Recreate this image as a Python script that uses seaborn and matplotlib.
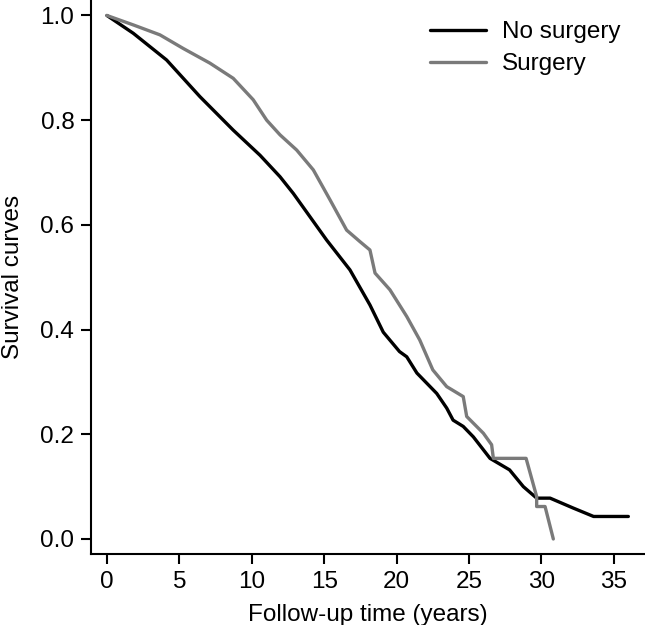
import matplotlib
matplotlib.use("Agg")
import matplotlib.pyplot as plt
import seaborn as sns
import pandas as pd

# Data
nosurg_time = [0.0, 1.82, 4.12, 6.42, 8.72, 10.57, 11.95, 12.87, 15.17, 16.78, 18.16,
               19.08, 20.2, 20.7, 21.4, 22.77, 23.46, 23.9, 24.6, 25.3, 26.45, 27.8,
               28.75, 29.67, 30.6, 32.2, 33.6, 36.0]
nosurg_surv = [1.0, 0.966, 0.915, 0.845, 0.781, 0.733, 0.692, 0.660, 0.571, 0.514, 0.447,
               0.395, 0.358, 0.348, 0.317, 0.278, 0.250, 0.227, 0.215, 0.195, 0.154, 0.132,
               0.100, 0.078, 0.078, 0.059, 0.043, 0.043]

surg_time = [0.0, 1.82, 3.66, 5.27, 7.11, 8.72, 10.1, 11.03, 11.95, 13.1, 14.25, 15.4,
             16.55, 17.47, 18.16, 18.51, 19.54, 20.7, 21.6, 22.5, 23.46, 24.6, 24.84,
             25.99, 26.56, 26.68, 28.94, 29.67, 29.67, 30.25, 30.82]
surg_surv = [1.0, 0.982, 0.963, 0.937, 0.909, 0.880, 0.839, 0.800, 0.772, 0.743, 0.705, 0.648,
             0.590, 0.568, 0.552, 0.508, 0.476, 0.425, 0.380, 0.323, 0.291, 0.272, 0.234,
             0.202, 0.180, 0.154, 0.154, 0.081, 0.062, 0.062, 0.0]

groups = ["No surgery", "Surgery"]
colors = ["#000000", "#7a7a7a"]

df = pd.concat([
    pd.DataFrame({"time": nosurg_time, "surv": nosurg_surv, "group": groups[0]}),
    pd.DataFrame({"time": surg_time, "surv": surg_surv, "group": groups[1]}),
], ignore_index=True)

sns.set_style("ticks")
plt.rcParams["font.family"] = ["Liberation Sans", "DejaVu Sans"]
plt.rcParams["text.color"] = "black"
plt.rcParams["axes.labelcolor"] = "black"

FS = 17.5

fig = plt.figure(figsize=(6.45, 6.25), dpi=100)
ax = fig.add_axes([91 / 645, 71 / 625, 1 - 91 / 645, 1 - 71 / 625])

sns.lineplot(data=df, x="time", y="surv", hue="group", hue_order=groups,
             palette=dict(zip(groups, colors)), sort=False, estimator=None,
             units="group", linewidth=2.4, ax=ax)

ax.set_xlim(-1.1, 37.15)
ax.set_ylim(-0.0287, 1.0296)
ax.set_xticks([0, 5, 10, 15, 20, 25, 30, 35])
ax.set_yticks([0.0, 0.2, 0.4, 0.6, 0.8, 1.0])
ax.set_yticklabels(["0.0", "0.2", "0.4", "0.6", "0.8", "1.0"])
ax.tick_params(axis="both", labelsize=FS, length=7, width=1.5, pad=5, color="black",
               labelcolor="black")
for s in ["top", "right"]:
    ax.spines[s].set_visible(False)
for s in ["left", "bottom"]:
    ax.spines[s].set_linewidth(1.5)
    ax.spines[s].set_color("black")

ax.set_xlabel("Follow-up time (years)", fontsize=FS, labelpad=8, color="black")
ax.set_ylabel("Survival curves", fontsize=FS, labelpad=12, color="black")

handles, labels = ax.get_legend_handles_labels()
ax.legend(handles=handles, labels=labels, loc="upper left",
          bbox_to_anchor=(430 / 645, 1 - 21 / 625), bbox_transform=fig.transFigure,
          frameon=False, fontsize=FS, handlelength=2.3, handletextpad=0.65,
          labelspacing=0.42, borderaxespad=0, borderpad=0)

fig.savefig("out.png", dpi=100, facecolor="white")
